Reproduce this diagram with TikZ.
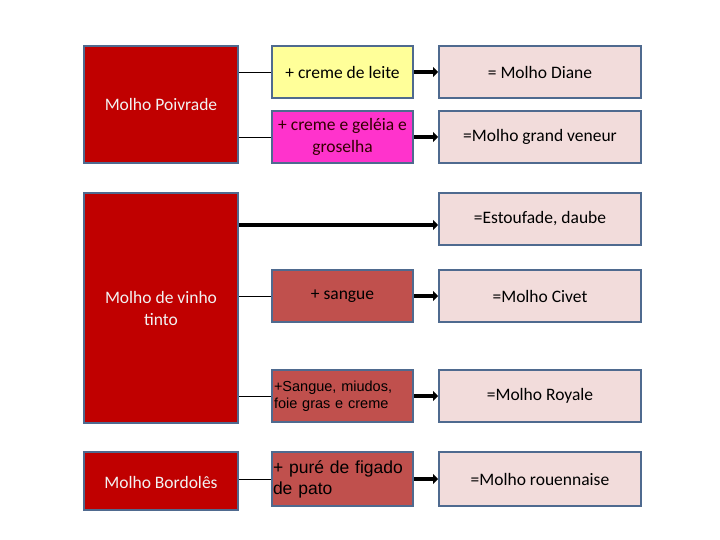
\documentclass[tikz,border=0pt]{standalone}
\usepackage{fontspec}
\setmainfont{Carlito}
\newfontfamily\arial{Liberation Sans}
\usetikzlibrary{arrows.meta}
\definecolor{bord}{HTML}{4F6A8F}
\definecolor{dred}{HTML}{C00000}
\definecolor{mred}{HTML}{C0504D}
\definecolor{pinkr}{HTML}{F2DCDB}
\definecolor{yel}{HTML}{FFFF99}
\definecolor{mag}{HTML}{FF33CC}
\begin{document}
\begin{tikzpicture}[x=1pt,y=-1pt,
 box/.style={draw=bord,line width=2pt,align=center,inner sep=0pt},
 thin/.style={line width=0.6pt},
 big/.style={line width=4pt,-{Triangle[length=5pt,width=10pt]}},
 txt/.style={font=\fontsize{17.5}{22}\selectfont}]
\useasboundingbox (0,0) rectangle (720,540);
% left red boxes
\draw[box,fill=dred] (84,46) rectangle (238,163);
\node[txt,text=white!95!black] (l1) at (161,104) {Molho Poivrade};
\draw[box,fill=dred] (84,193) rectangle (238,423);
\node[txt,text=white!95!black,align=center] (l2) at (161,308) {Molho de vinho\\tinto};
\draw[box,fill=dred] (84,452) rectangle (238,510);
\node[txt,text=white!95!black] (l3) at (161,482) {Molho Bordolês};
% middle
\node[box,fill=yel,minimum width=141pt,minimum height=52pt,txt] (m1) at (342.5,72) {+ creme de leite};
\node[box,fill=mag,minimum width=141pt,minimum height=52pt,txt,text=black!80!red] (m2) at (342.5,137) {+ creme e geléia e\\groselha};
\node[box,fill=mred,minimum width=141pt,minimum height=52pt,txt] (m3) at (342.5,296) {+ sangue};
\node[box,fill=mred,minimum width=141pt,minimum height=52pt,font=\arial\fontsize{14.5}{17}\selectfont,align=left,text width=137pt] (m4) at (342.5,396) {+Sangue, miudos,\\foie gras e creme};
\node[box,fill=mred,minimum width=141pt,minimum height=54pt,font=\arial\fontsize{17.5}{21}\selectfont,align=left,text width=139pt] (m5) at (342.5,479) {+ puré de figado\\de pato};
% right
\node[box,fill=pinkr,minimum width=202pt,minimum height=52pt,txt] (r1) at (540,72) {= Molho Diane};
\node[box,fill=pinkr,minimum width=202pt,minimum height=52pt,txt] (r2) at (540,137) {=Molho grand veneur};
\node[box,fill=pinkr,minimum width=202pt,minimum height=52pt,txt] (r3) at (540,219) {=Estoufade, daube};
\node[box,fill=pinkr,minimum width=202pt,minimum height=52pt,txt] (r4) at (540,296) {=Molho Civet};
\node[box,fill=pinkr,minimum width=202pt,minimum height=52pt,txt] (r5) at (540,396) {=Molho Royale};
\node[box,fill=pinkr,minimum width=202pt,minimum height=54pt,txt] (r6) at (540,479) {=Molho rouennaise};
% thin connectors
\coordinate (a1) at (239,72); \coordinate (a2) at (239,137);
\coordinate (a3) at (239,296); \coordinate (a4) at (239,396); \coordinate (a5) at (239,479);
\draw[thin] (a1) -- (m1.west);
\draw[thin] (a2) -- (m2.west);
\draw[thin] (a3) -- (m3.west);
\draw[thin] (a4) -- (m4.west);
\draw[thin] (a5) -- (m5.west);
% arrows
\draw[big] (m1.east) -- (r1.west);
\draw[big] (m2.east) -- (r2.west);
\coordinate (a6) at (239,225);
\draw[big] (a6) -- (r3.west |- a6);
\draw[big] (m3.east) -- (r4.west);
\draw[big] (m4.east) -- (r5.west);
\draw[big] (m5.east) -- (r6.west);
\end{tikzpicture}
\end{document}
